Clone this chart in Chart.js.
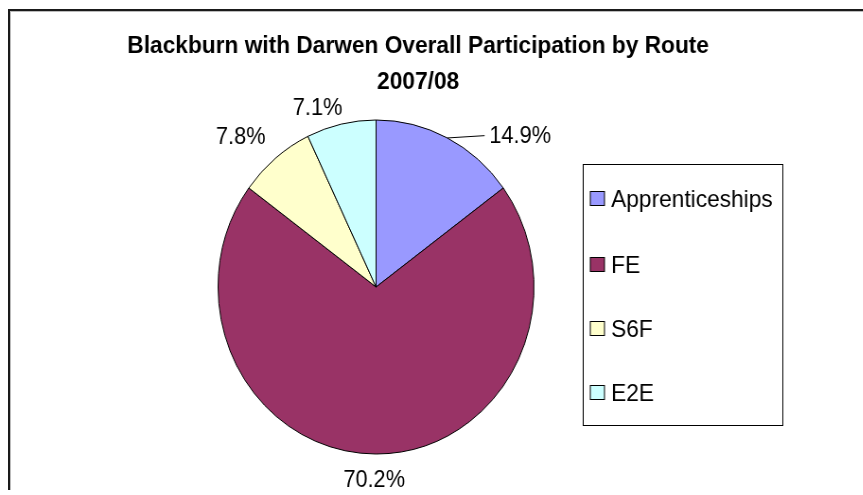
<!DOCTYPE html>
<html>
<head>
<meta charset="utf-8">
<script src="https://cdn.jsdelivr.net/npm/chart.js"></script>
<style>
	html, body { margin: 0; padding: 0; background: #fff; overflow: hidden; }
	#frame {
		position: absolute; left: 8px; top: 9px; width: 900px; height: 479px;
		border-left: 2px solid #1a1a1a; border-top: 2px solid #1a1a1a;
		box-shadow: inset 1px 1px 0 #bbb;
	}
	/* the original picture is a little squeezed sideways */
	#wrap {
		position: absolute; left: 0; top: 0; width: 912px; height: 495px;
		transform: scaleX(0.946); transform-origin: 0 0;
	}
</style>
</head>
<body>
	<div id="frame"></div>
	<div id="wrap">
		<canvas id="chart"></canvas>
	</div>
	<script>
		// data
		const labels = ['Apprenticeships', 'FE', 'S6F', 'E2E'];
		const shares = [14.9, 70.2, 7.8, 7.1];
		const colours = ['#9999FF', '#993366', '#FFFFCC', '#CCFFFF'];
		const titleLines = ['Blackburn with Darwen Overall Participation by Route', '2007/08'];

		const FONT = '"Liberation Sans", Arial, sans-serif';

		// pie labels, placed outside the slice end (Excel style), 14.9% moved with a leader line
		const labelPlugin = {
			id: 'pieLabels',
			afterDatasetsDraw(chart, args, opts) {
				const ctx = chart.ctx;
				const meta = chart.getDatasetMeta(0);
				ctx.save();
				ctx.font = '23px ' + FONT;
				ctx.fillStyle = '#000';
				ctx.textAlign = 'center';
				ctx.textBaseline = 'middle';
				meta.data.forEach((arc, i) => {
					const p = arc.getProps(['x', 'y', 'startAngle', 'endAngle', 'outerRadius'], true);
					const mid = (p.startAngle + p.endAngle) / 2;
					const dx = Math.cos(mid), dy = Math.sin(mid);
					const txt = shares[i].toFixed(1) + '%';
					const tw = ctx.measureText(txt).width;
					const w = tw + 8, h = 30;
					const d = p.outerRadius + 10;
					const s = opts.shift[i] || [0, 0];
					const cx = p.x + dx * d + dx * w / 2 + s[0];
					const cy = p.y + dy * d + dy * h / 2 + s[1];
					if (opts.leader[i]) {
						ctx.strokeStyle = '#000';
						ctx.lineWidth = 1;
						ctx.beginPath();
						ctx.moveTo(p.x + dx * p.outerRadius, p.y + dy * p.outerRadius);
						ctx.lineTo(cx - tw / 2 - 5, cy);
						ctx.stroke();
					}
					ctx.fillText(txt, cx, cy + 1);
				});
				ctx.restore();
			}
		};

		// title and boxed legend
		const decorPlugin = {
			id: 'decor',
			afterDraw(chart) {
				const ctx = chart.ctx;
				ctx.save();
				ctx.fillStyle = '#000';
				ctx.textAlign = 'center';
				ctx.textBaseline = 'alphabetic';
				ctx.font = 'bold 24px ' + FONT;
				ctx.fillText(titleLines[0], 442, 53);
				ctx.fillText(titleLines[1], 442, 89);

				// legend box
				ctx.strokeStyle = '#000';
				ctx.lineWidth = 1;
				ctx.strokeRect(616.5, 164.5, 211, 261);
				ctx.font = '24px ' + FONT;
				ctx.textAlign = 'left';
				ctx.textBaseline = 'middle';
				const rows = [199, 265, 329, 393];
				labels.forEach((lab, i) => {
					ctx.fillStyle = colours[i];
					ctx.fillRect(624, rows[i] - 7.5, 15, 14);
					ctx.strokeStyle = '#000';
					ctx.strokeRect(624, rows[i] - 7.5, 15, 14);
					ctx.fillStyle = '#000';
					ctx.fillText(lab, 646, rows[i] + 1);
				});
				ctx.restore();
			}
		};

		const data = {
			labels: labels,
			datasets: [{
				data: shares,
				backgroundColor: colours,
				borderColor: '#000',
				borderWidth: 1,
				borderAlign: 'center'
			}]
		};

		const config = {
			type: 'pie',
			data: data,
			options: {
				responsive: true,
				maintainAspectRatio: false,
				animation: false,
				layout: { padding: { left: 230, right: 347, top: 119.5, bottom: 40.5 } },
				plugins: {
					legend: { display: false },
					title: { display: false },
					tooltip: { enabled: false },
					pieLabels: {
						shift: [[56, 20], [-2, 1], [-11, -2], [-16, 8]],
						leader: [true, false, false, false]
					}
				}
			},
			plugins: [labelPlugin, decorPlugin]
		};

		const chart = new Chart(document.getElementById('chart'), config);
	</script>
</body>
</html>
